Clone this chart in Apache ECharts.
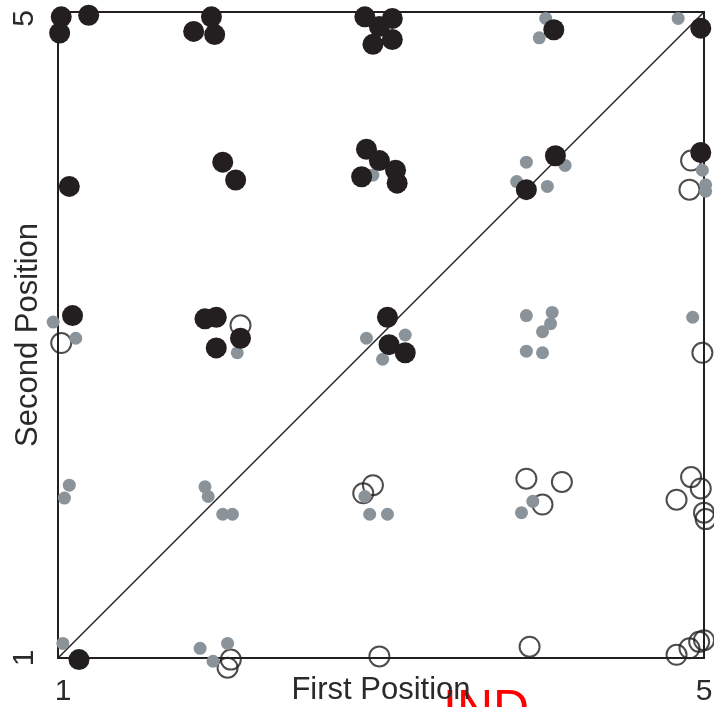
<!DOCTYPE html>
<html>
<head>
<meta charset="utf-8">
<script src="https://cdn.jsdelivr.net/npm/echarts@6/dist/echarts.min.js"></script>
<style>
  html, body { margin: 0; padding: 0; background: #fff; }
  #chart { width: 714px; height: 707px; }
</style>
</head>
<body>
<div id="chart"></div>
<script>
// Axis range and tick labels
const axisMin = 1;
const axisMax = 5;
const xTickLabels = ['1', '5'];
const yTickLabels = ['1', '5'];
const xTitle = 'First Position';
const yTitle = 'Second Position';
const cornerNote = 'IND';

// Filled black markers (first position, second position), jittered around integer scores
const blackPts = [
  [1.02, 4.97], [1.01, 4.87], [1.19, 4.98],
  [1.95, 4.97], [1.84, 4.88], [1.97, 4.86],
  [2.90, 4.97], [2.99, 4.91], [3.07, 4.96], [2.95, 4.80], [3.07, 4.83],
  [4.07, 4.89], [4.98, 4.90],
  [1.07, 3.92], [2.02, 4.07], [2.10, 3.96],
  [2.91, 4.15], [2.99, 4.08], [3.09, 4.02], [2.88, 3.98], [3.10, 3.94],
  [4.08, 4.11], [3.90, 3.90], [4.98, 4.13],
  [1.09, 3.12], [1.91, 3.10], [1.98, 3.11], [2.13, 2.98], [1.98, 2.92],
  [3.04, 3.11], [3.05, 2.94], [3.15, 2.89],
  [1.13, 0.99]
];

// Open circle markers
const openPts = [
  [1.02, 2.95], [2.13, 3.06], [4.99, 2.89],
  [4.92, 4.08], [4.91, 3.90],
  [2.95, 2.07], [2.89, 2.02],
  [3.90, 2.11], [4.12, 2.09], [4.00, 1.95],
  [4.92, 2.12], [4.83, 1.98], [4.98, 2.05], [5.00, 1.90], [5.01, 1.86],
  [2.07, 0.99], [2.05, 0.94], [2.99, 1.01], [3.92, 1.07],
  [4.83, 1.02], [4.91, 1.06], [4.97, 1.10], [5.00, 1.11]
];

// Small grey markers
const greyPts = [
  [4.02, 4.96], [3.98, 4.84], [4.84, 4.96],
  [3.90, 4.07], [4.14, 4.05], [3.84, 3.95], [4.03, 3.92],
  [4.99, 4.02], [5.01, 3.93], [5.01, 3.89], [2.95, 3.99],
  [0.97, 3.08], [1.11, 2.98], [2.11, 2.89],
  [2.91, 2.98], [3.15, 3.00], [3.01, 2.85],
  [3.90, 3.12], [4.06, 3.14], [4.05, 3.07], [4.00, 3.02], [3.90, 2.90], [4.00, 2.89],
  [4.93, 3.11],
  [1.07, 2.07], [1.04, 1.99],
  [1.91, 2.06], [1.93, 2.00], [2.02, 1.89], [2.08, 1.89],
  [2.90, 2.00], [2.93, 1.89], [3.04, 1.89],
  [3.94, 1.97], [3.87, 1.90],
  [1.03, 1.09], [1.88, 1.06], [2.05, 1.09], [1.96, 0.98]
];

// Identity line
const diagonal = [[axisMin, axisMin], [axisMax, axisMax]];

const ink = '#231f20';
const textInk = '#2a2a2a';
const fontFamily = 'Liberation Sans, Arial, sans-serif';

const chart = echarts.init(document.getElementById('chart'), null, { renderer: 'canvas' });

// End labels get their own rich style so they can sit slightly inside the frame
function tickFormatter(labels) {
  return function (v) {
    if (v === axisMin) return '{lo|' + labels[0] + '}';
    if (v === axisMax) return '{hi|' + labels[1] + '}';
    return '';
  };
}

const tickFont = { fontSize: 30, color: textInk, fontFamily: fontFamily };

chart.setOption({
  animation: false,
  backgroundColor: '#ffffff',
  grid: {
    left: 58, top: 12, width: 646, height: 646,
    containLabel: false, outerBoundsMode: 'none',
    show: true, borderColor: ink, borderWidth: 2, backgroundColor: 'transparent'
  },
  xAxis: {
    type: 'value', min: axisMin, max: axisMax, interval: 4,
    axisLine: { show: false }, axisTick: { show: false }, splitLine: { show: false },
    axisLabel: {
      formatter: tickFormatter(xTickLabels), margin: 19, ...tickFont,
      rich: {
        lo: { ...tickFont, padding: [0, 0, 0, 10] },
        hi: { ...tickFont }
      }
    },
    name: xTitle, nameLocation: 'middle', nameGap: 17, nameMoveOverlap: false,
    nameTextStyle: { fontSize: 31, color: textInk, fontFamily: fontFamily }
  },
  yAxis: {
    type: 'value', min: axisMin, max: axisMax, interval: 4,
    axisLine: { show: false }, axisTick: { show: false }, splitLine: { show: false },
    axisLabel: {
      formatter: tickFormatter(yTickLabels), rotate: 90, margin: 18, ...tickFont,
      rich: {
        lo: { ...tickFont },
        hi: { ...tickFont, padding: [0, 13, 0, 0] }
      }
    },
    name: yTitle, nameLocation: 'middle', nameGap: 14, nameRotate: 90, nameMoveOverlap: false,
    nameTextStyle: { fontSize: 31, color: textInk, fontFamily: fontFamily }
  },
  graphic: [{
    type: 'text', left: 443, top: 686, silent: true,
    style: { text: cornerNote, fill: '#ff0000', fontSize: 50, fontFamily: fontFamily }
  }],
  series: [
    {
      type: 'line', data: diagonal, symbol: 'none', silent: true,
      lineStyle: { color: ink, width: 1.5 }, z: 1
    },
    {
      type: 'scatter', data: openPts, symbol: 'circle', symbolSize: 20, clip: false,
      itemStyle: { color: 'rgba(0,0,0,0)', borderColor: ink, borderWidth: 2 }, z: 2
    },
    {
      type: 'scatter', data: greyPts, symbol: 'circle', symbolSize: 13, clip: false,
      itemStyle: { color: '#8b939a', opacity: 1 }, z: 3
    },
    {
      type: 'scatter', data: blackPts, symbol: 'circle', symbolSize: 21, clip: false,
      itemStyle: { color: ink, opacity: 1 }, z: 4
    }
  ]
});
</script>
</body>
</html>
